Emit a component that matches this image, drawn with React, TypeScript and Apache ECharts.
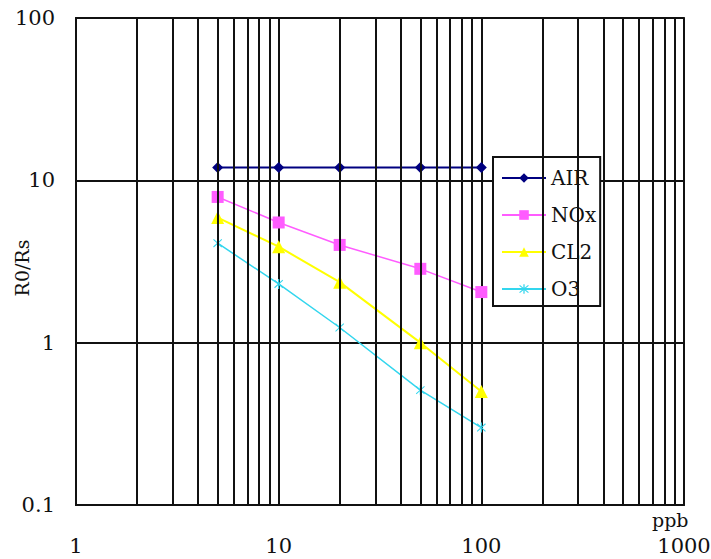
import React, { useEffect, useRef } from "react";
import * as echarts from "echarts";

const concentrations = [5, 10, 20, 50, 100];
const airValues = [12, 12, 12, 12, 12];
const noxValues = [7.9, 5.5, 4.0, 2.85, 2.05];
const cl2Values = [5.9, 3.9, 2.36, 1.0, 0.5];
const o3Values = [4.1, 2.3, 1.24, 0.51, 0.3];
const seriesNames = ["AIR", "NOx", "CL2", "O3"];
const minorGridX = [2, 3, 4, 5, 6, 7, 8, 9, 20, 30, 40, 50, 60, 70, 80, 90, 200, 300, 400, 500, 600, 700, 800, 900];
const xAxisName = "ppb";
const yAxisName = "R0/Rs";

const FONT = "DejaVu Serif";
const O3_SYMBOL =
  "path://M4.4,0H5.6V10H4.4Z M0.4,1.6L1.1,0.8L9.6,8.4L8.9,9.2Z M9.6,1.6L8.9,0.8L0.4,8.4L1.1,9.2Z";

function zip(xs: number[], ys: number[]) {
  return xs.map((x, i) => [x, ys[i]]);
}

function fmt(v: number) {
  return v >= 1 ? String(Math.round(v)) : String(Number(v.toPrecision(1)));
}

export default function App() {
  const ref = useRef<HTMLDivElement>(null);
  useEffect(() => {
    if (!ref.current) return;
    const chart = echarts.init(ref.current, undefined, { renderer: "svg" });
    chart.setOption({
      animation: false,
      backgroundColor: "#fff",
      grid: {
        left: 76,
        right: 27,
        top: 18,
        bottom: 54,
        containLabel: false,
        outerBoundsMode: "none",
        show: true,
        borderColor: "#333",
        borderWidth: 2,
        backgroundColor: "transparent",
      },
      xAxis: {
        type: "log",
        logBase: 10,
        min: 1,
        max: 1000,
        axisLine: { show: true, lineStyle: { color: "#111", width: 2 } },
        axisTick: { show: false },
        axisLabel: {
          margin: 30,
          fontFamily: FONT,
          fontSize: 21,
          color: "#111",
          formatter: fmt,
        },
        splitLine: { show: true, lineStyle: { color: "#111", width: 2 } },
      },
      yAxis: {
        type: "log",
        logBase: 10,
        min: 0.1,
        max: 100,
        axisLine: { show: true, lineStyle: { color: "#111", width: 2 } },
        axisTick: { show: false },
        axisLabel: {
          margin: 21,
          fontFamily: FONT,
          fontSize: 21,
          color: "#111",
          formatter: fmt,
        },
        splitLine: { show: true, lineStyle: { color: "#111", width: 2 } },
      },
      legend: {
        data: seriesNames,
        orient: "vertical",
        left: 493,
        top: 157,
        backgroundColor: "#fff",
        borderColor: "#111",
        borderWidth: 2,
        borderRadius: 0,
        padding: [11, 4, 7, 8],
        itemGap: 17,
        itemWidth: 44,
        itemHeight: 12,
        textStyle: { fontFamily: FONT, fontSize: 20, color: "#111" },
      },
      graphic: [
        {
          type: "text",
          left: 652,
          top: 510,
          style: { text: xAxisName, fontFamily: FONT, fontSize: 19, fill: "#111" },
        },
        {
          type: "text",
          x: 22,
          y: 268,
          rotation: Math.PI / 2,
          style: {
            text: yAxisName,
            fontFamily: FONT,
            fontSize: 19,
            fill: "#111",
            align: "center",
            verticalAlign: "middle",
          },
        },
      ],
      series: [
        {
          name: "minor-grid",
          type: "line",
          data: [],
          z: 1,
          silent: true,
          markLine: {
            silent: true,
            symbol: "none",
            label: { show: false },
            lineStyle: { color: "#111", width: 2, type: "solid" },
            data: minorGridX.map((v) => ({ xAxis: v })),
          },
        },
        {
          name: "AIR",
          type: "line",
          z: 3,
          data: zip(concentrations, airValues),
          color: "#000080",
          symbol: "diamond",
          symbolSize: 11,
          lineStyle: { width: 2, color: "#000080" },
        },
        {
          name: "NOx",
          type: "line",
          z: 3,
          data: zip(concentrations, noxValues),
          color: "#ff5cff",
          symbol: "rect",
          symbolSize: 12,
          lineStyle: { width: 1.5, color: "#ff5cff" },
        },
        {
          name: "CL2",
          type: "line",
          z: 3,
          data: zip(concentrations, cl2Values),
          color: "#ffff00",
          symbol: "triangle",
          symbolSize: 13,
          lineStyle: { width: 2, color: "#ffff00" },
        },
        {
          name: "O3",
          type: "line",
          z: 3,
          data: zip(concentrations, o3Values),
          color: "#33d6ee",
          symbol: O3_SYMBOL,
          symbolSize: [9, 10],
          lineStyle: { width: 1.5, color: "#33d6ee" },
        },
      ],
    });
    return () => chart.dispose();
  }, []);
  return (
    <div
      ref={ref}
      style={{ position: "fixed", left: 0, top: 0, width: 711, height: 559, background: "#fff" }}
    />
  );
}
